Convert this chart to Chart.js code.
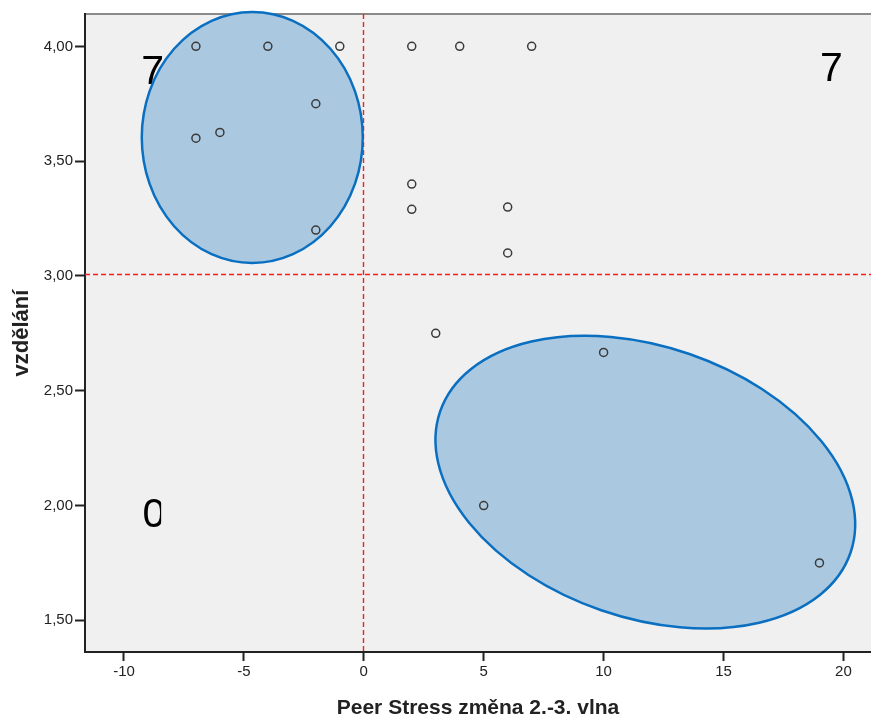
<!DOCTYPE html>
<html>
<head>
<meta charset="utf-8">
<script src="https://cdn.jsdelivr.net/npm/chart.js@4.4.1/dist/chart.umd.min.js"></script>
<style>
  html, body { margin: 0; padding: 0; background: #fff; overflow: hidden; }
  #wrap { width: 871px; height: 716px; }
  canvas { display: block; }
</style>
</head>
<body>
<div id="wrap"><canvas id="scatter" width="871" height="716"></canvas></div>
<script>
// data
const peerStress = [-7, -4, -1, 2, 4, 7, -2, -6, -7, -2, 2, 2, 6, 6, 3, 10, 5, 19];
const vzdelani   = [4.00, 4.00, 4.00, 4.00, 4.00, 4.00, 3.75, 3.625, 3.60, 3.20, 3.40, 3.29, 3.30, 3.10, 2.75, 2.667, 2.00, 1.75];
const xTicks = [-10, -5, 0, 5, 10, 15, 20];
const yTicks = [1.5, 2.0, 2.5, 3.0, 3.5, 4.0];
const refX = -0.05;   // svislá referenční čára
const refY = 3.01;    // vodorovná referenční čára
const quadrantCounts = ['7', '7', '0', '4'];
const quadrantX = [-8.8, 19.5, -8.75, 19.5];
const quadrantY = [3.886, 3.897, 1.954, 1.963];
const quadrantClip = [null, null, -8.45, null]; // "0" je v originále oříznutá zprava

// zvýrazněné skupiny (střed v datech, poloosy v px, natočení ve stupních)
const highlights = [
    { cx: -4.65, cy: 3.603, rx: 110.5, ry: 125.5, rot: 0 },
    { cx: 11.74, cy: 2.102, rx: 217, ry: 135.5, rot: 19 }
];

const points = peerStress.map((x, i) => ({ x: x, y: vzdelani[i] }));
const FONT = 'Arial, "Liberation Sans", sans-serif';

const overlayPlugin = {
    id: 'overlay',
    beforeDraw(chart) {
        const { ctx, chartArea: a } = chart;
        ctx.save();
        ctx.fillStyle = '#f0f0f0';
        ctx.fillRect(a.left, a.top, a.right - a.left, a.bottom - a.top);
        ctx.strokeStyle = '#8a8a8a';
        ctx.lineWidth = 2;
        ctx.beginPath();
        ctx.moveTo(a.left, a.top);
        ctx.lineTo(a.right, a.top);
        ctx.stroke();
        ctx.restore();
    },
    beforeDatasetsDraw(chart) {
        const { ctx, chartArea: a, scales: { x, y } } = chart;
        ctx.save();
        // referenční čáry
        ctx.strokeStyle = '#ff1a1a';
        ctx.lineWidth = 1.4;
        ctx.setLineDash([5, 3]);
        const px = Math.round(x.getPixelForValue(refX)) + 0.5;
        const py = Math.round(y.getPixelForValue(refY)) + 0.5;
        ctx.beginPath();
        ctx.moveTo(px, a.top); ctx.lineTo(px, a.bottom);
        ctx.moveTo(a.left, py); ctx.lineTo(a.right, py);
        ctx.stroke();
        ctx.setLineDash([]);

        // počty v kvadrantech
        ctx.fillStyle = '#000';
        ctx.font = '41px "Liberation Sans", Arial, sans-serif';
        ctx.textAlign = 'center';
        ctx.textBaseline = 'middle';
        quadrantCounts.forEach((t, i) => {
            const tx = x.getPixelForValue(quadrantX[i]);
            const ty = y.getPixelForValue(quadrantY[i]);
            ctx.save();
            if (quadrantClip[i] !== null) {
                ctx.beginPath();
                ctx.rect(a.left, a.top, x.getPixelForValue(quadrantClip[i]) - a.left, a.bottom - a.top);
                ctx.clip();
            }
            ctx.fillText(t, tx, ty);
            ctx.restore();
        });

        // elipsy
        highlights.forEach(h => {
            ctx.beginPath();
            ctx.ellipse(x.getPixelForValue(h.cx), y.getPixelForValue(h.cy), h.rx, h.ry,
                h.rot * Math.PI / 180, 0, Math.PI * 2);
            ctx.fillStyle = '#aac9e1';
            ctx.fill();
            ctx.lineWidth = 2.5;
            ctx.strokeStyle = '#0a6fc0';
            ctx.stroke();
        });
        ctx.restore();
    }
};

new Chart(document.getElementById('scatter'), {
    type: 'scatter',
    data: {
        datasets: [{
            data: points,
            pointRadius: 4,
            pointHoverRadius: 4,
            borderWidth: 1.5,
            borderColor: '#3a3a3a',
            backgroundColor: 'rgba(0,0,0,0)',
            clip: false
        }]
    },
    options: {
        responsive: false,
        animation: false,
        events: [],
        layout: { autoPadding: false, padding: { top: 14, right: 0, left: 0, bottom: 0 } },
        plugins: { legend: { display: false }, tooltip: { enabled: false } },
        scales: {
            x: {
                type: 'linear',
                min: -11.625, max: 21.15,
                afterBuildTicks: (s) => { s.ticks = xTicks.map(v => ({ value: v })); },
                afterFit: (s) => { s.height = 64; s.paddingLeft = 0; s.paddingRight = 0; },
                grid: { drawOnChartArea: false, drawTicks: true, tickLength: 9, tickWidth: 2, tickColor: '#222' },
                border: { display: true, color: '#222', width: 2 },
                ticks: { color: '#222', padding: 2, font: { family: FONT, size: 15 } },
                title: {
                    display: true, text: 'Peer Stress změna 2.-3. vlna', color: '#222',
                    font: { family: FONT, size: 21, weight: 'bold', lineHeight: 1 },
                    padding: { top: 0, bottom: -3 }
                }
            },
            y: {
                type: 'linear',
                min: 1.362, max: 4.141,
                afterBuildTicks: (s) => { s.ticks = yTicks.map(v => ({ value: v })); },
                afterFit: (s) => { s.width = 85; s.paddingTop = 0; s.paddingBottom = 0; },
                grid: { drawOnChartArea: false, drawTicks: true, tickLength: 10, tickWidth: 2, tickColor: '#222' },
                border: { display: true, color: '#222', width: 2 },
                ticks: {
                    color: '#222', padding: 2,
                    font: { family: FONT, size: 15 },
                    callback: (v) => v.toFixed(2).replace('.', ',')
                },
                title: {
                    display: true, text: 'vzdělání', color: '#222',
                    font: { family: FONT, size: 22, weight: 'bold' },
                    padding: { top: 9, bottom: 0 }
                }
            }
        }
    },
    plugins: [overlayPlugin]
});
</script>
</body>
</html>
